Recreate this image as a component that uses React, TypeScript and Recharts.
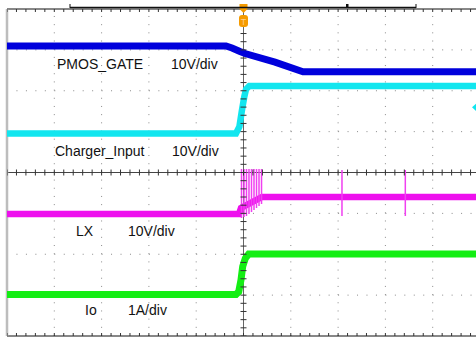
import { ComposedChart, Line, XAxis, YAxis, ReferenceLine, ReferenceDot, Scatter } from 'recharts'

// Scope screen in divisions: 10 across (t), 8 down (v), centre at v = 0
const W = 484
const H = 337
const PLOT = { left: 7, top: 9, right: 4, bottom: 1 }

const majorT = [1, 2, 3, 4, 6, 7, 8, 9]
const majorV = [-3, -2, -1, 1, 2, 3]
const minorT = Array.from({ length: 51 }, (_, k) => +(k * 0.2).toFixed(2))
const minorV = Array.from({ length: 41 }, (_, k) => +(-4 + k * 0.2).toFixed(2))

// CH1 PMOS_GATE
const pmosGate = [
  { t: 0, v: 3.095 },
  { t: 4.63, v: 3.095 },
  { t: 4.757, v: 3.046 },
  { t: 4.926, v: 2.96 },
  { t: 5.032, v: 2.911 },
  { t: 5.666, v: 2.7 },
  { t: 6.258, v: 2.466 },
  { t: 10, v: 2.466 },
]

// CH2 Charger_Input
const chargerInput = [
  { t: 0, v: 0.954 },
  { t: 4.841, v: 0.954 },
  { t: 4.913, v: 1.12 },
  { t: 4.968, v: 1.529 },
  { t: 5.017, v: 1.854 },
  { t: 5.053, v: 2.035 },
  { t: 5.123, v: 2.116 },
  { t: 10, v: 2.116 },
]

// CH3 LX
const lx = [
  { t: 0, v: -1.015 },
  { t: 4.905, v: -1.015 },
  { t: 4.947, v: -0.868 },
  { t: 5.032, v: -0.819 },
  { t: 5.391, v: -0.599 },
  { t: 10, v: -0.599 },
]

// switching spikes on LX: time, top, bottom
const lxSpikes = [
  [4.958, 0.086, -1.113],
  [5.011, 0.086, -1.089],
  [5.063, 0.086, -1.064],
  [5.116, 0.086, -1.015],
  [5.169, 0.086, -0.966],
  [5.222, 0.086, -0.917],
  [5.275, 0.086, -0.869],
  [5.328, 0.086, -0.82],
  [5.381, 0.086, -0.771],
  [7.082, 0.061, -1.064],
  [8.421, 0.061, -1.064],
]

// CH4 Io
const io = [
  { t: 0, v: -2.985 },
  { t: 4.841, v: -2.985 },
  { t: 4.899, v: -2.916 },
  { t: 4.947, v: -2.63 },
  { t: 4.983, v: -2.3 },
  { t: 5.038, v: -2.1 },
  { t: 5.11, v: -1.994 },
  { t: 10, v: -1.994 },
]

const labels = [
  { text: 'PMOS_GATE', x: 57, y: 69 },
  { text: '10V/div', x: 171, y: 69 },
  { text: 'Charger_Input', x: 55, y: 155.5 },
  { text: '10V/div', x: 172, y: 155.5 },
  { text: 'LX', x: 76, y: 236 },
  { text: '10V/div', x: 128, y: 236 },
  { text: 'Io', x: 85, y: 315 },
  { text: '1A/div', x: 128, y: 315 },
]

const spikeLine = lxSpikes.flatMap(([t, hi, lo]) => [
  { t, v: hi },
  { t, v: lo },
  { t, v: null },
])

const topTicks = minorT.map((t) => ({ t, v: 4 }))
const bottomTicks = minorT.map((t) => ({ t, v: -4 }))
const hCentreTicks = minorT.map((t) => ({ t, v: 0 }))
const vCentreTicks = minorV.map((v) => ({ t: 5, v }))

const TICK = '#333'
const tickShape = (dy1: number, dy2: number) => (p: any) =>
  <line x1={p.cx} x2={p.cx} y1={p.cy + dy1} y2={p.cy + dy2} stroke={TICK} strokeWidth={1} />
const sideTickShape = (p: any) =>
  <line x1={p.cx - 3} x2={p.cx + 3} y1={p.cy} y2={p.cy} stroke={TICK} strokeWidth={1} />

const TriggerMark = (p: any) => {
  const { cx, cy } = p
  return (
    <g>
      <polygon
        points={`${cx - 4},${cy - 5} ${cx + 4},${cy - 5} ${cx + 4},${cy} ${cx},${cy + 4} ${cx - 4},${cy}`}
        fill="#f59b00"
      />
      <rect x={cx - 4.5} y={cy + 6} width={9} height={12} rx={3} fill="#f59b00" />
      <text x={cx} y={cy + 15.5} textAnchor="middle" fontSize={9} fill="#ffd08a" fontFamily="Liberation Sans, Arial">
        T
      </text>
    </g>
  )
}

const LevelMark = (p: any) => (
  <polygon
    points={`${p.cx - 5},${p.cy} ${p.cx},${p.cy - 4.5} ${p.cx + 5},${p.cy} ${p.cx},${p.cy + 4.5}`}
    fill="#10e6f0"
  />
)

export default function App() {
  return (
    <div style={{ position: 'absolute', left: 0, top: 0, width: 476, height: 337, overflow: 'hidden', background: '#fff' }}>
      <ComposedChart width={W} height={H} margin={PLOT}>
        <XAxis type="number" dataKey="t" domain={[0, 10]} hide allowDataOverflow />
        <YAxis type="number" dataKey="v" domain={[-4, 4]} hide allowDataOverflow />

        {majorT.map((t) => (
          <ReferenceLine key={'gt' + t} x={t} stroke="#8a8a8a" strokeDasharray="1 7.18" />
        ))}
        {majorV.map((v) => (
          <ReferenceLine key={'gv' + v} y={v} stroke="#8a8a8a" strokeDasharray="1 8.46" />
        ))}
        <ReferenceLine x={5} stroke="#666" />
        <ReferenceLine y={0} stroke="#444" />
        <ReferenceLine y={4} stroke="#111" />
        <ReferenceLine y={-4} stroke="#111" />
        <ReferenceLine x={0} stroke="#bdbdbd" strokeWidth={2.5} />

        <Scatter data={topTicks} dataKey="v" shape={tickShape(0, 3)} isAnimationActive={false} />
        <Scatter data={bottomTicks} dataKey="v" shape={tickShape(-3, 0)} isAnimationActive={false} />
        <Scatter data={hCentreTicks} dataKey="v" shape={tickShape(-3, 3)} isAnimationActive={false} />
        <Scatter data={vCentreTicks} dataKey="v" shape={sideTickShape} isAnimationActive={false} />

        <Line data={pmosGate} dataKey="v" type="linear" stroke="#0000dc" strokeWidth={7} dot={false} isAnimationActive={false} />
        <Line data={chargerInput} dataKey="v" type="linear" stroke="#12e6ef" strokeWidth={6.5} dot={false} isAnimationActive={false} />
        <Line data={lx} dataKey="v" type="linear" stroke="#ee10ee" strokeWidth={6.5} dot={false} isAnimationActive={false} />
        <Line data={spikeLine} dataKey="v" type="linear" stroke="#f040f0" strokeWidth={1.5} dot={false} isAnimationActive={false} />
        <Line data={io} dataKey="v" type="linear" stroke="#14ee14" strokeWidth={7} dot={false} isAnimationActive={false} />

        <ReferenceDot x={5} y={4} r={0} shape={TriggerMark} />
        <ReferenceDot x={9.937} y={1.595} r={0} shape={LevelMark} />
      </ComposedChart>

      <svg width={476} height={337} style={{ position: 'absolute', left: 0, top: 0, pointerEvents: 'none' }}>
        <line x1={70} x2={416} y1={7.5} y2={7.5} stroke="#111" strokeWidth={1.5} />
        <line x1={70} x2={70} y1={4} y2={8} stroke="#111" />
        <line x1={416} x2={416} y1={4} y2={8} stroke="#111" />
        <rect x={346} y={4} width={2.5} height={4} fill="#111" />
        {labels.map((l, i) => (
          <text key={i} x={l.x} y={l.y} fontSize={14} fill="#111" fontFamily="Liberation Sans, Arial, sans-serif">
            {l.text}
          </text>
        ))}
      </svg>
    </div>
  )
}
